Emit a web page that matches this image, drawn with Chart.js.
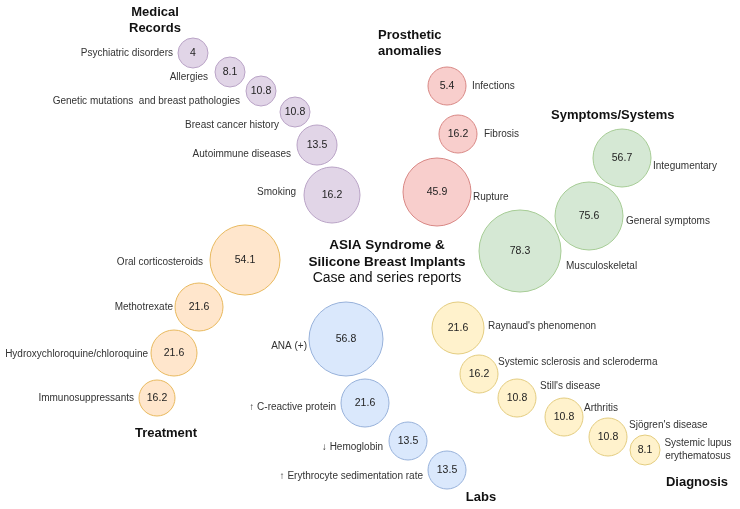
<!DOCTYPE html>
<html>
<head>
<meta charset="utf-8">
<script src="https://cdn.jsdelivr.net/npm/chart.js@4/dist/chart.umd.min.js"></script>
<style>
  html, body { margin: 0; padding: 0; background: #fff; }
  #wrap { width: 740px; height: 509px; position: relative; }
</style>
</head>
<body>
<div id="wrap"><canvas id="asiaChart"></canvas></div>
<script>
// ---- data (percent of reports) ----
const medicalNames = ['Psychiatric disorders', 'Allergies', 'Genetic mutations  and breast pathologies', 'Breast cancer history', 'Autoimmune diseases', 'Smoking'];
const medicalValues = [4, 8.1, 10.8, 10.8, 13.5, 16.2];

const prostheticNames = ['Infections', 'Fibrosis', 'Rupture'];
const prostheticValues = [5.4, 16.2, 45.9];

const symptomNames = ['Integumentary', 'General symptoms', 'Musculoskeletal'];
const symptomValues = [56.7, 75.6, 78.3];

const treatmentNames = ['Oral corticosteroids', 'Methotrexate', 'Hydroxychloroquine/chloroquine', 'Immunosuppressants'];
const treatmentValues = [54.1, 21.6, 21.6, 16.2];

const labNames = ['ANA (+)', '\u2191 C-reactive protein', '\u2193 Hemoglobin', '\u2191 Erythrocyte sedimentation rate'];
const labValues = [56.8, 21.6, 13.5, 13.5];

const diagnosisNames = ["Raynaud's phenomenon", 'Systemic sclerosis and scleroderma', "Still's disease", 'Arthritis', "Sjögren's disease", 'Systemic lupus\nerythematosus'];
const diagnosisValues = [21.6, 16.2, 10.8, 10.8, 10.8, 8.1];

// ---- layout of the infographic (bubble centre, bubble radius, label anchor) ----
const medicalPos = [[193, 53], [230, 72], [261, 91], [295, 112], [317, 145], [332, 195]];
const medicalSize = [15, 15, 15, 15, 20, 28];
const medicalText = [[173, 53], [208, 77], [240, 101], [279, 125], [291, 154], [296, 192]];

const prostheticPos = [[447, 86], [458, 134], [437, 192]];
const prostheticSize = [19, 19, 34];
const prostheticText = [[472, 86], [484, 134], [473, 197]];

const symptomPos = [[622, 158], [589, 216], [520, 251]];
const symptomSize = [29, 34, 41];
const symptomText = [[653, 166], [626, 221], [566, 266]];

const treatmentPos = [[245, 260], [199, 307], [174, 353], [157, 398]];
const treatmentSize = [35, 24, 23, 18];
const treatmentText = [[203, 262], [173, 307], [148, 354], [134, 398]];

const labPos = [[346, 339], [365, 403], [408, 441], [447, 470]];
const labSize = [37, 24, 19, 19];
const labText = [[307, 346], [336, 407], [383, 447], [423, 476]];

const diagnosisPos = [[458, 328], [479, 374], [517, 398], [564, 417], [608, 437], [645, 450]];
const diagnosisSize = [26, 19, 19, 19, 19, 15];
const diagnosisText = [[488, 326], [498, 362], [540, 386], [584, 408], [629, 425], [664, 450]];

const headings = [
    { lines: ['Medical', 'Records'], x: 155, y: 12, align: 'center' },
    { lines: ['Prosthetic', 'anomalies'], x: 378, y: 35, align: 'left' },
    { lines: ['Symptoms/Systems'], x: 551, y: 115, align: 'left' },
    { lines: ['Treatment'], x: 166, y: 433, align: 'center' },
    { lines: ['Labs'], x: 481, y: 497, align: 'center' },
    { lines: ['Diagnosis'], x: 697, y: 482, align: 'center' }
];

const FONT = '"Liberation Sans", Arial, Helvetica, sans-serif';

var groups = [
    { names: medicalNames, values: medicalValues, pos: medicalPos, size: medicalSize, text: medicalText, align: 'right', fill: '#e1d5e7', stroke: '#b9a3c6' },
    { names: prostheticNames, values: prostheticValues, pos: prostheticPos, size: prostheticSize, text: prostheticText, align: 'left', fill: '#f8cecc', stroke: '#d88784' },
    { names: symptomNames, values: symptomValues, pos: symptomPos, size: symptomSize, text: symptomText, align: 'left', fill: '#d5e8d4', stroke: '#a6cc95' },
    { names: treatmentNames, values: treatmentValues, pos: treatmentPos, size: treatmentSize, text: treatmentText, align: 'right', fill: '#ffe6cc', stroke: '#e8b95e' },
    { names: labNames, values: labValues, pos: labPos, size: labSize, text: labText, align: 'right', fill: '#dae8fc', stroke: '#97b1da' },
    { names: diagnosisNames, values: diagnosisValues, pos: diagnosisPos, size: diagnosisSize, text: diagnosisText, align: 'left', fill: '#fff2cc', stroke: '#e3cc7f' }
];

// Draws values inside bubbles, item labels, section headings and centre title
const textPlugin = {
    id: 'asiaText',
    afterDatasetsDraw: function(chart) {
        var ctx = chart.ctx;
        var xs = chart.scales.x;
        var ys = chart.scales.y;
        ctx.save();
        ctx.textBaseline = 'middle';

        groups.forEach(function(g, i) {
            var meta = chart.getDatasetMeta(i);
            meta.data.forEach(function(el, j) {
                // value in bubble
                ctx.fillStyle = '#222';
                ctx.font = '10.5px ' + FONT;
                ctx.textAlign = 'center';
                ctx.fillText(String(g.values[j]), el.x, el.y);

                // item label
                var lines = g.names[j].split('\n');
                var tx = xs.getPixelForValue(g.text[j][0]);
                var ty = ys.getPixelForValue(g.text[j][1]);
                ctx.font = '10px ' + FONT;
                ctx.fillStyle = '#333';
                if (lines.length > 1) {
                    ctx.textAlign = 'center';
                    tx += 34;
                    lines.forEach(function(line, k) {
                        ctx.fillText(line, tx, ty + (k - (lines.length - 1) / 2) * 13);
                    });
                } else {
                    ctx.textAlign = g.align;
                    ctx.fillText(lines[0], tx, ty);
                }
            });
        });

        // section headings
        ctx.fillStyle = '#111';
        ctx.font = 'bold 13px ' + FONT;
        headings.forEach(function(h) {
            ctx.textAlign = h.align;
            h.lines.forEach(function(line, k) {
                ctx.fillText(line, xs.getPixelForValue(h.x), ys.getPixelForValue(h.y + k * 16));
            });
        });

        // centre title
        var cx = xs.getPixelForValue(387);
        ctx.textAlign = 'center';
        ctx.font = 'bold 13.5px ' + FONT;
        ctx.fillText('ASIA Syndrome &', cx, ys.getPixelForValue(245));
        ctx.fillText('Silicone Breast Implants', cx, ys.getPixelForValue(262));
        ctx.font = '14px ' + FONT;
        ctx.fillText('Case and series reports', cx, ys.getPixelForValue(278));

        ctx.restore();
    }
};

var ctx = document.getElementById('asiaChart').getContext('2d');
var asiaChart = new Chart(ctx, {
    type: 'bubble',
    data: {
        datasets: groups.map(function(g) {
            return {
                data: g.pos.map(function(p, j) {
                    return { x: p[0], y: p[1], r: g.size[j] };
                }),
                backgroundColor: g.fill,
                borderColor: g.stroke,
                borderWidth: 1,
                hoverRadius: 0,
                clip: false
            };
        })
    },
    options: {
        responsive: true,
        maintainAspectRatio: false,
        animation: false,
        layout: { padding: 0, autoPadding: false },
        plugins: {
            legend: { display: false },
            tooltip: { enabled: false }
        },
        events: [],
        scales: {
            x: { type: 'linear', min: 0, max: 740, display: false },
            y: { type: 'linear', min: 0, max: 509, reverse: true, display: false }
        }
    },
    plugins: [textPlugin]
});
</script>
</body>
</html>
